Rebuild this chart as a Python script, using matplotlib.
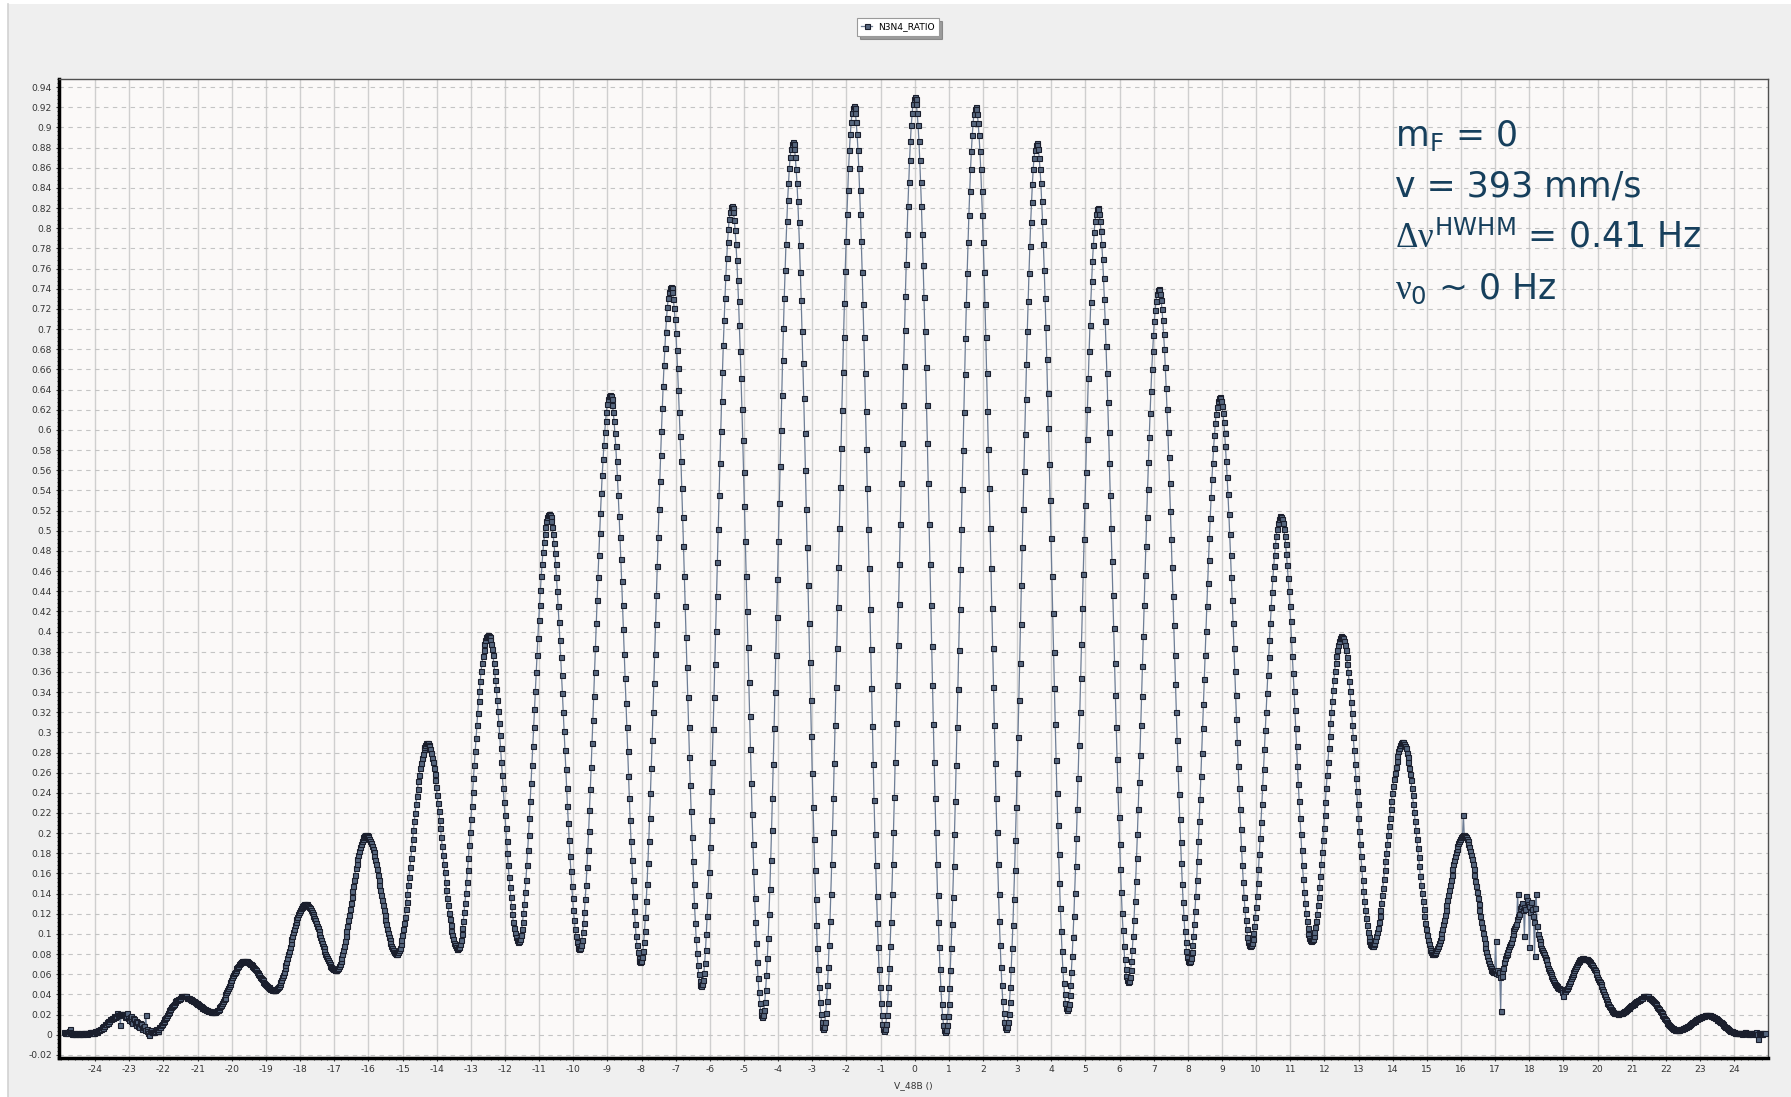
import numpy as np
import matplotlib
matplotlib.use("Agg")
import matplotlib.pyplot as plt
from matplotlib.ticker import MultipleLocator, FuncFormatter
from matplotlib.patches import Rectangle
from matplotlib.lines import Line2D

# scan of V_48B, one point every 0.0248 starting at -24.9
v_start = -24.9
v_step = 0.0248

# N3N4_RATIO, one line per half fringe
n3n4_ratio = [
    0.003, 0.002, 0.002, 0.003, 0.002, 0.004, 0.006, 0.003, 0.002, 0.001, 0.001, 0.002, 0.001, 0.001, 0.002, 0.002, 0.001, 0.001, 0.001, 0.002, 0.002, 0.001, 0.001, 0.002, 0.002, 0.002, 0.002, 0.001, 0.002, 0.002, 0.003, 0.003, 0.003,
    0.002, 0.002, 0.002, 0.004, 0.003, 0.003, 0.004, 0.005, 0.005, 0.006, 0.006, 0.008, 0.007, 0.009, 0.009, 0.011, 0.011, 0.013, 0.012, 0.014, 0.014, 0.016, 0.016, 0.017, 0.017, 0.019, 0.018, 0.018, 0.019, 0.022, 0.020, 0.020, 0.021, 0.010, 0.021, 0.021,
    0.021, 0.021, 0.020, 0.018, 0.019, 0.022, 0.017, 0.015, 0.018, 0.019, 0.014, 0.012, 0.017, 0.016, 0.012, 0.010, 0.014, 0.013, 0.009, 0.008, 0.012, 0.011, 0.007, 0.006, 0.008, 0.009, 0.005, 0.020, 0.006, 0.004, 0.002, 0.000, 0.004, 0.005, 0.003, 0.003,
    0.003, 0.003, 0.004, 0.006, 0.005, 0.004, 0.006, 0.008, 0.008, 0.010, 0.011, 0.013, 0.014, 0.016, 0.017, 0.018, 0.020, 0.022, 0.023, 0.025, 0.026, 0.028, 0.029, 0.030, 0.031, 0.033, 0.034, 0.035, 0.035, 0.036, 0.036, 0.037, 0.037, 0.038, 0.038, 0.038,
    0.038, 0.038, 0.038, 0.038, 0.037, 0.037, 0.037, 0.036, 0.036, 0.035, 0.035, 0.034, 0.034, 0.033, 0.032, 0.032, 0.031, 0.031, 0.030, 0.029, 0.029, 0.028, 0.027, 0.027, 0.026, 0.026, 0.025, 0.025, 0.024, 0.024, 0.024, 0.024, 0.023, 0.023, 0.023, 0.023,
    0.023, 0.023, 0.024, 0.025, 0.025, 0.026, 0.028, 0.029, 0.030, 0.032, 0.034, 0.036, 0.037, 0.040, 0.042, 0.044, 0.046, 0.048, 0.050, 0.052, 0.054, 0.057, 0.059, 0.061, 0.062, 0.064, 0.066, 0.067, 0.068, 0.070, 0.071, 0.072, 0.072, 0.073, 0.073, 0.073,
    0.073, 0.073, 0.073, 0.072, 0.072, 0.071, 0.070, 0.070, 0.069, 0.068, 0.067, 0.066, 0.065, 0.064, 0.062, 0.061, 0.060, 0.059, 0.057, 0.056, 0.055, 0.054, 0.052, 0.051, 0.050, 0.049, 0.048, 0.047, 0.047, 0.046, 0.045, 0.045, 0.044, 0.044, 0.044, 0.044,
    0.044, 0.045, 0.046, 0.047, 0.048, 0.050, 0.052, 0.054, 0.057, 0.059, 0.062, 0.066, 0.069, 0.072, 0.076, 0.080, 0.083, 0.087, 0.091, 0.095, 0.098, 0.102, 0.105, 0.109, 0.112, 0.115, 0.117, 0.120, 0.122, 0.124, 0.126, 0.127, 0.128, 0.129, 0.130, 0.130,
    0.130, 0.130, 0.129, 0.128, 0.127, 0.126, 0.124, 0.122, 0.120, 0.118, 0.116, 0.114, 0.111, 0.108, 0.106, 0.103, 0.100, 0.097, 0.094, 0.091, 0.088, 0.086, 0.083, 0.080, 0.078, 0.076, 0.074, 0.072, 0.070, 0.068, 0.067, 0.066, 0.065, 0.065, 0.064, 0.064,
    0.064, 0.065, 0.066, 0.068, 0.070, 0.073, 0.076, 0.080, 0.084, 0.088, 0.093, 0.098, 0.103, 0.108, 0.114, 0.119, 0.125, 0.131, 0.137, 0.143, 0.148, 0.154, 0.159, 0.165, 0.169, 0.174, 0.178, 0.182, 0.186, 0.189, 0.192, 0.194, 0.196, 0.197, 0.198, 0.198,
    0.198, 0.197, 0.196, 0.194, 0.192, 0.190, 0.187, 0.184, 0.181, 0.177, 0.173, 0.169, 0.164, 0.159, 0.154, 0.149, 0.144, 0.139, 0.134, 0.129, 0.124, 0.119, 0.114, 0.110, 0.105, 0.101, 0.097, 0.094, 0.091, 0.088, 0.086, 0.084, 0.082, 0.081, 0.080, 0.080,
    0.080, 0.082, 0.084, 0.086, 0.090, 0.094, 0.099, 0.105, 0.111, 0.117, 0.125, 0.132, 0.140, 0.149, 0.157, 0.166, 0.175, 0.185, 0.194, 0.203, 0.212, 0.220, 0.229, 0.237, 0.244, 0.252, 0.258, 0.265, 0.270, 0.275, 0.279, 0.283, 0.285, 0.287, 0.289, 0.289,
    0.289, 0.287, 0.286, 0.283, 0.280, 0.275, 0.271, 0.265, 0.259, 0.253, 0.246, 0.238, 0.230, 0.222, 0.213, 0.205, 0.196, 0.187, 0.178, 0.169, 0.161, 0.152, 0.144, 0.136, 0.129, 0.121, 0.115, 0.109, 0.103, 0.099, 0.095, 0.091, 0.089, 0.087, 0.085, 0.085,
    0.086, 0.087, 0.090, 0.094, 0.100, 0.106, 0.113, 0.122, 0.131, 0.141, 0.152, 0.163, 0.175, 0.188, 0.201, 0.214, 0.227, 0.241, 0.255, 0.268, 0.281, 0.294, 0.307, 0.319, 0.331, 0.341, 0.351, 0.361, 0.369, 0.376, 0.382, 0.388, 0.392, 0.395, 0.396, 0.397,
    0.396, 0.395, 0.392, 0.388, 0.383, 0.377, 0.369, 0.361, 0.352, 0.343, 0.332, 0.321, 0.309, 0.297, 0.284, 0.271, 0.258, 0.245, 0.231, 0.218, 0.205, 0.192, 0.180, 0.168, 0.157, 0.147, 0.137, 0.128, 0.120, 0.112, 0.106, 0.101, 0.097, 0.094, 0.093, 0.092,
    0.093, 0.095, 0.099, 0.105, 0.112, 0.121, 0.130, 0.142, 0.154, 0.168, 0.183, 0.198, 0.215, 0.232, 0.250, 0.268, 0.286, 0.305, 0.323, 0.341, 0.360, 0.377, 0.394, 0.411, 0.426, 0.441, 0.455, 0.467, 0.479, 0.489, 0.497, 0.504, 0.510, 0.514, 0.516, 0.517,
    0.516, 0.514, 0.510, 0.504, 0.497, 0.488, 0.478, 0.467, 0.454, 0.440, 0.425, 0.409, 0.392, 0.375, 0.357, 0.339, 0.320, 0.301, 0.282, 0.264, 0.245, 0.227, 0.210, 0.193, 0.177, 0.162, 0.148, 0.136, 0.124, 0.114, 0.105, 0.098, 0.092, 0.088, 0.086, 0.085,
    0.086, 0.089, 0.094, 0.102, 0.111, 0.122, 0.135, 0.149, 0.166, 0.183, 0.202, 0.223, 0.244, 0.266, 0.289, 0.312, 0.336, 0.360, 0.384, 0.408, 0.431, 0.454, 0.476, 0.498, 0.518, 0.537, 0.555, 0.571, 0.585, 0.598, 0.609, 0.618, 0.626, 0.631, 0.634, 0.635,
    0.634, 0.631, 0.625, 0.618, 0.609, 0.597, 0.584, 0.569, 0.553, 0.535, 0.515, 0.494, 0.472, 0.450, 0.426, 0.402, 0.378, 0.354, 0.329, 0.305, 0.281, 0.257, 0.235, 0.213, 0.192, 0.173, 0.154, 0.138, 0.123, 0.110, 0.098, 0.089, 0.082, 0.076, 0.073, 0.072,
    0.073, 0.077, 0.083, 0.092, 0.103, 0.117, 0.133, 0.150, 0.170, 0.192, 0.215, 0.240, 0.265, 0.292, 0.320, 0.349, 0.378, 0.407, 0.436, 0.465, 0.494, 0.522, 0.549, 0.575, 0.599, 0.622, 0.644, 0.664, 0.681, 0.697, 0.711, 0.722, 0.731, 0.737, 0.741, 0.742,
    0.741, 0.737, 0.730, 0.721, 0.710, 0.696, 0.679, 0.661, 0.640, 0.618, 0.594, 0.569, 0.542, 0.514, 0.485, 0.455, 0.425, 0.395, 0.365, 0.335, 0.305, 0.276, 0.248, 0.222, 0.196, 0.172, 0.150, 0.129, 0.111, 0.095, 0.081, 0.069, 0.060, 0.053, 0.049, 0.048,
    0.050, 0.054, 0.061, 0.071, 0.084, 0.100, 0.118, 0.139, 0.161, 0.186, 0.213, 0.242, 0.271, 0.303, 0.335, 0.368, 0.401, 0.435, 0.469, 0.502, 0.535, 0.567, 0.599, 0.629, 0.657, 0.684, 0.709, 0.731, 0.752, 0.770, 0.786, 0.799, 0.809, 0.816, 0.821, 0.822,
    0.820, 0.816, 0.808, 0.798, 0.784, 0.768, 0.749, 0.728, 0.704, 0.678, 0.651, 0.621, 0.590, 0.558, 0.524, 0.490, 0.455, 0.420, 0.385, 0.350, 0.316, 0.283, 0.250, 0.219, 0.189, 0.162, 0.136, 0.112, 0.091, 0.072, 0.056, 0.042, 0.032, 0.024, 0.020, 0.018,
    0.020, 0.025, 0.033, 0.044, 0.059, 0.076, 0.096, 0.120, 0.145, 0.173, 0.203, 0.235, 0.269, 0.304, 0.340, 0.377, 0.414, 0.452, 0.490, 0.527, 0.564, 0.600, 0.635, 0.669, 0.701, 0.731, 0.759, 0.784, 0.807, 0.828, 0.845, 0.860, 0.871, 0.879, 0.884, 0.886,
    0.884, 0.879, 0.871, 0.859, 0.845, 0.827, 0.806, 0.783, 0.757, 0.729, 0.698, 0.666, 0.632, 0.597, 0.560, 0.522, 0.484, 0.446, 0.408, 0.370, 0.332, 0.296, 0.260, 0.226, 0.194, 0.163, 0.135, 0.109, 0.086, 0.065, 0.047, 0.033, 0.021, 0.013, 0.008, 0.006,
    0.008, 0.013, 0.022, 0.034, 0.049, 0.067, 0.089, 0.113, 0.140, 0.169, 0.201, 0.235, 0.270, 0.307, 0.345, 0.384, 0.424, 0.464, 0.503, 0.543, 0.582, 0.620, 0.657, 0.692, 0.726, 0.758, 0.787, 0.814, 0.838, 0.860, 0.878, 0.893, 0.905, 0.914, 0.919, 0.921,
    0.919, 0.914, 0.905, 0.893, 0.878, 0.860, 0.838, 0.814, 0.787, 0.757, 0.725, 0.692, 0.656, 0.619, 0.581, 0.542, 0.502, 0.463, 0.422, 0.383, 0.344, 0.306, 0.269, 0.233, 0.199, 0.168, 0.138, 0.111, 0.087, 0.065, 0.047, 0.032, 0.020, 0.011, 0.006, 0.004,
    0.006, 0.011, 0.020, 0.032, 0.047, 0.066, 0.088, 0.112, 0.140, 0.169, 0.201, 0.236, 0.271, 0.309, 0.347, 0.387, 0.427, 0.467, 0.507, 0.547, 0.587, 0.625, 0.663, 0.699, 0.733, 0.765, 0.794, 0.822, 0.846, 0.868, 0.887, 0.902, 0.914, 0.923, 0.928, 0.930,
    0.928, 0.923, 0.914, 0.902, 0.887, 0.868, 0.846, 0.822, 0.794, 0.764, 0.732, 0.698, 0.662, 0.625, 0.587, 0.547, 0.507, 0.467, 0.426, 0.386, 0.347, 0.308, 0.271, 0.235, 0.201, 0.169, 0.139, 0.112, 0.087, 0.065, 0.046, 0.031, 0.019, 0.010, 0.005, 0.003,
    0.005, 0.010, 0.019, 0.031, 0.046, 0.064, 0.086, 0.110, 0.137, 0.167, 0.199, 0.232, 0.268, 0.305, 0.343, 0.382, 0.422, 0.462, 0.502, 0.541, 0.580, 0.618, 0.655, 0.691, 0.725, 0.756, 0.786, 0.813, 0.837, 0.859, 0.877, 0.892, 0.904, 0.913, 0.918, 0.920,
    0.918, 0.913, 0.904, 0.892, 0.877, 0.859, 0.837, 0.813, 0.786, 0.757, 0.725, 0.692, 0.656, 0.619, 0.581, 0.542, 0.503, 0.463, 0.423, 0.384, 0.345, 0.307, 0.270, 0.235, 0.201, 0.169, 0.140, 0.113, 0.089, 0.067, 0.049, 0.034, 0.022, 0.013, 0.008, 0.006,
    0.008, 0.013, 0.021, 0.033, 0.047, 0.065, 0.086, 0.109, 0.135, 0.163, 0.193, 0.226, 0.260, 0.295, 0.332, 0.369, 0.407, 0.446, 0.484, 0.522, 0.559, 0.596, 0.631, 0.665, 0.698, 0.728, 0.756, 0.782, 0.806, 0.826, 0.844, 0.859, 0.870, 0.878, 0.883, 0.885,
    0.883, 0.879, 0.870, 0.859, 0.845, 0.827, 0.807, 0.784, 0.759, 0.731, 0.702, 0.670, 0.637, 0.602, 0.566, 0.530, 0.493, 0.455, 0.418, 0.380, 0.344, 0.308, 0.273, 0.240, 0.208, 0.179, 0.151, 0.126, 0.103, 0.083, 0.065, 0.051, 0.040, 0.032, 0.027, 0.025,
    0.027, 0.031, 0.039, 0.049, 0.062, 0.078, 0.097, 0.118, 0.141, 0.167, 0.195, 0.224, 0.255, 0.287, 0.320, 0.354, 0.388, 0.423, 0.457, 0.492, 0.525, 0.558, 0.591, 0.621, 0.651, 0.678, 0.704, 0.727, 0.748, 0.767, 0.783, 0.796, 0.807, 0.814, 0.819, 0.820,
    0.819, 0.814, 0.807, 0.797, 0.784, 0.769, 0.751, 0.730, 0.708, 0.683, 0.656, 0.628, 0.598, 0.567, 0.535, 0.503, 0.470, 0.436, 0.403, 0.369, 0.337, 0.305, 0.274, 0.244, 0.216, 0.189, 0.164, 0.142, 0.121, 0.104, 0.088, 0.075, 0.065, 0.058, 0.054, 0.052,
    0.053, 0.057, 0.064, 0.073, 0.084, 0.098, 0.114, 0.133, 0.153, 0.175, 0.199, 0.224, 0.251, 0.278, 0.307, 0.336, 0.366, 0.396, 0.426, 0.456, 0.485, 0.514, 0.541, 0.568, 0.593, 0.617, 0.639, 0.660, 0.678, 0.694, 0.708, 0.719, 0.728, 0.735, 0.739, 0.740,
    0.739, 0.735, 0.729, 0.720, 0.709, 0.695, 0.680, 0.662, 0.642, 0.621, 0.598, 0.573, 0.547, 0.520, 0.492, 0.464, 0.435, 0.406, 0.377, 0.348, 0.320, 0.292, 0.265, 0.239, 0.214, 0.191, 0.170, 0.150, 0.132, 0.117, 0.103, 0.092, 0.083, 0.077, 0.073, 0.072,
    0.073, 0.076, 0.082, 0.089, 0.098, 0.110, 0.123, 0.138, 0.154, 0.172, 0.192, 0.212, 0.234, 0.257, 0.280, 0.304, 0.328, 0.353, 0.377, 0.401, 0.425, 0.448, 0.471, 0.493, 0.513, 0.533, 0.551, 0.567, 0.582, 0.595, 0.607, 0.616, 0.623, 0.629, 0.632, 0.633,
    0.632, 0.629, 0.624, 0.617, 0.608, 0.597, 0.584, 0.569, 0.553, 0.536, 0.517, 0.497, 0.476, 0.454, 0.431, 0.408, 0.384, 0.361, 0.337, 0.313, 0.290, 0.267, 0.245, 0.224, 0.204, 0.185, 0.168, 0.152, 0.137, 0.125, 0.114, 0.105, 0.097, 0.092, 0.089, 0.088,
    0.089, 0.091, 0.095, 0.101, 0.108, 0.117, 0.127, 0.138, 0.151, 0.164, 0.179, 0.195, 0.211, 0.229, 0.246, 0.264, 0.283, 0.302, 0.320, 0.339, 0.357, 0.375, 0.392, 0.408, 0.424, 0.439, 0.453, 0.465, 0.476, 0.486, 0.495, 0.502, 0.508, 0.512, 0.514, 0.515,
    0.514, 0.512, 0.508, 0.502, 0.495, 0.487, 0.477, 0.466, 0.453, 0.440, 0.425, 0.410, 0.393, 0.376, 0.359, 0.341, 0.322, 0.304, 0.286, 0.267, 0.249, 0.232, 0.215, 0.199, 0.183, 0.168, 0.155, 0.142, 0.131, 0.121, 0.113, 0.106, 0.100, 0.096, 0.094, 0.093,
    0.094, 0.095, 0.098, 0.102, 0.107, 0.113, 0.120, 0.129, 0.137, 0.147, 0.158, 0.169, 0.181, 0.193, 0.205, 0.218, 0.231, 0.245, 0.258, 0.271, 0.284, 0.296, 0.309, 0.320, 0.331, 0.342, 0.352, 0.361, 0.369, 0.376, 0.382, 0.387, 0.391, 0.394, 0.395, 0.396,
    0.395, 0.394, 0.391, 0.387, 0.382, 0.375, 0.368, 0.360, 0.351, 0.341, 0.330, 0.319, 0.307, 0.295, 0.282, 0.269, 0.255, 0.242, 0.229, 0.215, 0.202, 0.189, 0.177, 0.165, 0.154, 0.143, 0.133, 0.124, 0.116, 0.109, 0.102, 0.097, 0.093, 0.090, 0.089, 0.088,
    0.088, 0.090, 0.091, 0.094, 0.098, 0.102, 0.106, 0.112, 0.118, 0.124, 0.131, 0.139, 0.146, 0.155, 0.163, 0.172, 0.180, 0.189, 0.198, 0.207, 0.215, 0.224, 0.232, 0.240, 0.247, 0.254, 0.260, 0.266, 0.272, 0.277, 0.281, 0.284, 0.287, 0.289, 0.290, 0.290,
    0.290, 0.288, 0.286, 0.284, 0.280, 0.276, 0.271, 0.265, 0.259, 0.253, 0.245, 0.238, 0.229, 0.221, 0.212, 0.203, 0.194, 0.185, 0.176, 0.167, 0.158, 0.149, 0.141, 0.133, 0.125, 0.118, 0.111, 0.105, 0.099, 0.094, 0.090, 0.086, 0.084, 0.082, 0.080, 0.080,
    0.080, 0.081, 0.082, 0.084, 0.086, 0.088, 0.091, 0.094, 0.097, 0.101, 0.105, 0.110, 0.114, 0.119, 0.124, 0.129, 0.134, 0.139, 0.144, 0.149, 0.154, 0.159, 0.164, 0.169, 0.173, 0.177, 0.181, 0.184, 0.187, 0.190, 0.192, 0.194, 0.196, 0.197, 0.198, 0.218,
    0.198, 0.197, 0.196, 0.194, 0.192, 0.189, 0.186, 0.182, 0.178, 0.174, 0.169, 0.164, 0.159, 0.153, 0.148, 0.142, 0.136, 0.130, 0.124, 0.118, 0.112, 0.107, 0.101, 0.096, 0.091, 0.086, 0.082, 0.078, 0.074, 0.071, 0.068, 0.066, 0.064, 0.063, 0.062, 0.062,
    0.063, 0.093, 0.061, 0.064, 0.060, 0.062, 0.057, 0.024, 0.063, 0.058, 0.066, 0.072, 0.076, 0.079, 0.080, 0.082, 0.085, 0.088, 0.090, 0.092, 0.096, 0.100, 0.104, 0.106, 0.108, 0.110, 0.115, 0.140, 0.118, 0.120, 0.126, 0.128, 0.131, 0.124, 0.127, 0.098,
    0.125, 0.138, 0.134, 0.130, 0.128, 0.087, 0.122, 0.132, 0.125, 0.118, 0.112, 0.078, 0.126, 0.140, 0.108, 0.100, 0.096, 0.093, 0.090, 0.086, 0.084, 0.082, 0.080, 0.077, 0.075, 0.074, 0.070, 0.066, 0.064, 0.062, 0.060, 0.058, 0.056, 0.054, 0.052, 0.050,
    0.049, 0.048, 0.047, 0.046, 0.046, 0.045, 0.045, 0.044, 0.042, 0.038, 0.044, 0.043, 0.045, 0.046, 0.048, 0.049, 0.051, 0.053, 0.056, 0.058, 0.060, 0.062, 0.064, 0.066, 0.068, 0.070, 0.072, 0.073, 0.074, 0.075, 0.075, 0.076, 0.076, 0.075, 0.075, 0.075,
    0.075, 0.075, 0.074, 0.073, 0.072, 0.071, 0.070, 0.069, 0.067, 0.065, 0.064, 0.062, 0.060, 0.057, 0.055, 0.053, 0.052, 0.050, 0.048, 0.045, 0.043, 0.040, 0.038, 0.036, 0.034, 0.032, 0.031, 0.029, 0.028, 0.026, 0.025, 0.024, 0.023, 0.022, 0.022, 0.022,
    0.022, 0.021, 0.021, 0.022, 0.022, 0.022, 0.022, 0.023, 0.023, 0.024, 0.024, 0.025, 0.026, 0.027, 0.027, 0.028, 0.029, 0.030, 0.030, 0.031, 0.031, 0.032, 0.033, 0.034, 0.034, 0.035, 0.035, 0.036, 0.036, 0.037, 0.037, 0.038, 0.038, 0.038, 0.038, 0.038,
    0.038, 0.038, 0.037, 0.037, 0.036, 0.036, 0.035, 0.034, 0.033, 0.032, 0.031, 0.030, 0.028, 0.027, 0.026, 0.024, 0.023, 0.022, 0.020, 0.019, 0.017, 0.016, 0.015, 0.013, 0.012, 0.011, 0.010, 0.009, 0.008, 0.007, 0.007, 0.006, 0.006, 0.005, 0.005, 0.005,
    0.005, 0.005, 0.005, 0.006, 0.006, 0.006, 0.007, 0.007, 0.007, 0.008, 0.008, 0.009, 0.009, 0.010, 0.011, 0.011, 0.012, 0.013, 0.013, 0.014, 0.014, 0.015, 0.016, 0.016, 0.017, 0.017, 0.018, 0.018, 0.018, 0.019, 0.019, 0.019, 0.020, 0.020, 0.020, 0.020,
    0.020, 0.020, 0.020, 0.019, 0.019, 0.019, 0.018, 0.018, 0.017, 0.017, 0.016, 0.015, 0.015, 0.014, 0.013, 0.013, 0.012, 0.011, 0.010, 0.009, 0.008, 0.008, 0.007, 0.006, 0.006, 0.005, 0.004, 0.004, 0.004, 0.003, 0.003, 0.003, 0.002, 0.002, 0.002, 0.002,
    0.002, 0.002, 0.002, 0.002, 0.001, 0.002, 0.002, 0.003, 0.003, 0.002, 0.002, 0.001, 0.001, 0.002, 0.002, 0.002, 0.001, 0.002, 0.002, 0.001, 0.002, 0.003, 0.001, -0.004, 0.002, 0.002, 0.002, 0.001, 0.001, 0.002, 0.002, 0.002,
]

x_ticks = list(range(-24, 25))
y_ticks = np.round(np.arange(-0.02, 0.9401, 0.02), 2)
series_name = "N3N4_RATIO"
x_label = "V_48B ()"
notes = [
    r"m$_\mathsf{F}$ = 0",
    "v = 393 mm/s",
    r"$\Delta\nu^\mathsf{HWHM}$ = 0.41 Hz",
    r"$\nu_\mathsf{0}$ ~ 0 Hz",
]

plt.rcParams["font.family"] = ["DejaVu Sans"]
plt.rcParams["mathtext.fontset"] = "custom"
plt.rcParams["mathtext.rm"] = "Liberation Serif"
plt.rcParams["mathtext.it"] = "Liberation Serif"
plt.rcParams["mathtext.sf"] = "DejaVu Sans"

W, H = 1791, 1097
fig = plt.figure(figsize=(W / 100, H / 100), dpi=100, facecolor="white")

# grey window panel behind the chart
fig.patches.append(Rectangle((8 / W, 0), 1, 1 - 4 / H, transform=fig.transFigure,
                             facecolor="#efefef", edgecolor="none", zorder=-10))
fig.add_artist(Line2D([8 / W, 8 / W], [0, 1 - 4 / H], color="#d2d2d2", lw=1.2))

ax = fig.add_axes([59 / W, 39 / H, (1768 - 59) / W, (1058 - 79) / H])
ax.set_facecolor("#fbf9f8")

v = v_start + v_step * np.arange(len(n3n4_ratio))
ax.plot(v, n3n4_ratio, color="#6d7d95", lw=0.9, marker="s", ms=3.6,
        mfc="#56667e", mec="#1a1e2c", mew=0.8, zorder=3)

ax.set_xlim(-25.06, 24.99)
ax.set_ylim(-0.023, 0.948)
ax.set_xticks(x_ticks)
ax.set_yticks(y_ticks)
ax.xaxis.set_minor_locator(MultipleLocator(0.2))
ax.yaxis.set_minor_locator(MultipleLocator(0.004))


def short(val, pos):
    return f"{round(val, 2) + 0:.2f}".rstrip("0").rstrip(".")


ax.yaxis.set_major_formatter(FuncFormatter(short))
ax.xaxis.set_major_formatter(FuncFormatter(lambda val, pos: f"{int(round(val))}"))

ax.tick_params(which="major", labelsize=6.6, length=2.5, width=0.8, color="#333333",
               labelcolor="#333333", pad=2.5)
ax.tick_params(which="minor", length=1.5, width=0.6, color="#333333")

ax.grid(True, axis="x", which="major", color="#cfcfcf", lw=1.0, ls="-", zorder=0)
ax.grid(True, axis="y", which="major", color="#c4c4c4", lw=0.8, ls=(0, (4, 4)), zorder=0)
ax.set_axisbelow(True)

for side in ["left", "bottom"]:
    ax.spines[side].set_linewidth(2.5)
    ax.spines[side].set_color("black")
for side in ["top", "right"]:
    ax.spines[side].set_linewidth(1.0)
    ax.spines[side].set_color("#505050")

fig.text(913 / W, 1 - 1088 / H, x_label, fontsize=6.6, color="#333333",
         ha="center", va="baseline")

handle = Line2D([], [], color="#6d7d95", lw=0.9, marker="s", ms=3.6,
                mfc="#56667e", mec="#1a1e2c", mew=0.8)
leg = fig.legend([handle], [series_name], loc="center", bbox_to_anchor=(898 / W, 1 - 27 / H),
                 fontsize=6.6, frameon=True, fancybox=False, shadow=True,
                 edgecolor="#9a9a9a", facecolor="white", handlelength=1.2,
                 handletextpad=0.6, borderpad=0.5)
leg.get_frame().set_linewidth(0.8)

baselines = [147, 196, 248, 299]
for txt, yb in zip(notes, baselines):
    fig.text(1395 / W, 1 - yb / H, txt, fontsize=25, color="#163f5c",
             ha="left", va="baseline")

fig.savefig("out.png", dpi=100, facecolor=fig.get_facecolor())
